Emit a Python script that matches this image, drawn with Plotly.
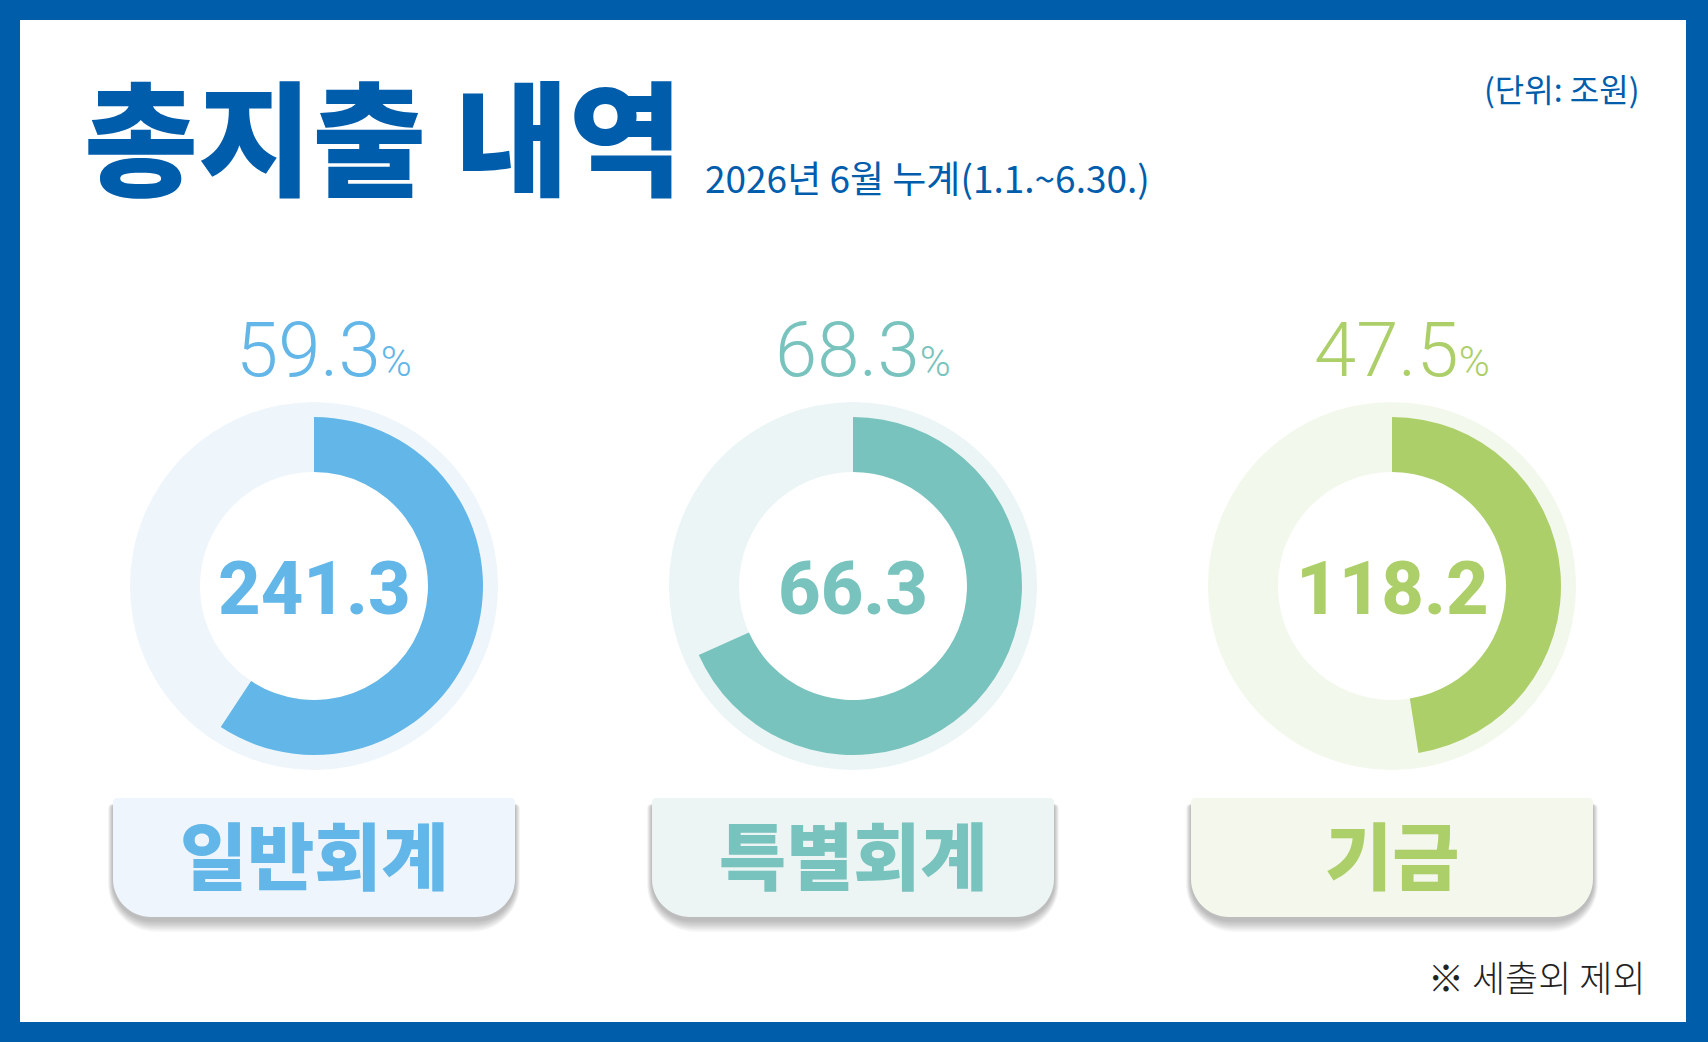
import plotly.graph_objects as go

# ---------------- data ----------------
categories = ["일반회계", "특별회계", "기금"]
amounts = [241.3, 66.3, 118.2]          # 조원
exec_rates = [59.3, 68.3, 47.5]         # %
title_text = "총지출 내역"
subtitle_text = "2026년 6월 누계(1.1.~6.30.)"
unit_text = "(단위: 조원)"
note_text = "※ 세출외 제외"

# ---------------- style ----------------
W, H = 1708, 1042
BORDER = "#005DAA"
main_colors = ["#62B6E8", "#78C3BD", "#ADCF6A"]
light_colors = ["#EEF6FC", "#EBF5F5", "#F3F8EC"]
box_colors = ["#EEF5FC", "#EDF5F4", "#F3F7EC"]
centers_x = [314, 853, 1392]
cy = 586
R_BG, R_RING, R_IN = 184, 169, 114

def px(x):
    return x / W

def py(y):
    return 1 - y / H

fig = go.Figure()

shapes = []
# white panel inside blue frame
shapes.append(dict(type="rect", xref="paper", yref="paper",
                   x0=px(20), x1=px(1686), y0=py(1022), y1=py(20),
                   fillcolor="white", line=dict(width=0), layer="below"))

def rrect_path(x0, y0, x1, y1, rt, rb):
    k = 0.5523
    pts = []
    pts.append(f"M {px(x0+rt)},{py(y0)}")
    pts.append(f"L {px(x1-rt)},{py(y0)}")
    pts.append(f"C {px(x1-rt+rt*k)},{py(y0)} {px(x1)},{py(y0+rt-rt*k)} {px(x1)},{py(y0+rt)}")
    pts.append(f"L {px(x1)},{py(y1-rb)}")
    pts.append(f"C {px(x1)},{py(y1-rb+rb*k)} {px(x1-rb+rb*k)},{py(y1)} {px(x1-rb)},{py(y1)}")
    pts.append(f"L {px(x0+rb)},{py(y1)}")
    pts.append(f"C {px(x0+rb-rb*k)},{py(y1)} {px(x0)},{py(y1-rb+rb*k)} {px(x0)},{py(y1-rb)}")
    pts.append(f"L {px(x0)},{py(y0+rt)}")
    pts.append(f"C {px(x0)},{py(y0+rt-rt*k)} {px(x0+rt-rt*k)},{py(y0)} {px(x0+rt)},{py(y0)}")
    pts.append("Z")
    return " ".join(pts)

BOX_W, BOX_T, BOX_B = 402, 798, 917

for i, cx in enumerate(centers_x):
    x0, x1 = cx - BOX_W / 2, cx + BOX_W / 2
    # soft shadow layers
    for s in range(10, 0, -1):
        shapes.append(dict(type="path", xref="paper", yref="paper",
                           path=rrect_path(x0 - s * 0.5, BOX_T + 6, x1 + s * 0.5,
                                           BOX_B + 3 + s * 1.2, 4, 38 + s),
                           fillcolor="rgba(0,0,0,0.026)", line=dict(width=0),
                           layer="below"))
    shapes.append(dict(type="path", xref="paper", yref="paper",
                       path=rrect_path(x0, BOX_T, x1, BOX_B, 4, 38),
                       fillcolor=box_colors[i], line=dict(width=0), layer="below"))

    # background light circle
    fig.add_trace(go.Pie(values=[1], hole=R_IN / R_BG, sort=False,
                         marker=dict(colors=[light_colors[i]], line=dict(width=0)),
                         textinfo="none", hoverinfo="skip", showlegend=False,
                         domain=dict(x=[px(cx - R_BG), px(cx + R_BG)],
                                     y=[py(cy + R_BG), py(cy - R_BG)])))
    # progress ring
    fig.add_trace(go.Pie(values=[exec_rates[i], 100 - exec_rates[i]],
                         hole=R_IN / R_RING, sort=False, direction="clockwise",
                         rotation=0,
                         marker=dict(colors=[main_colors[i], "rgba(0,0,0,0)"],
                                     line=dict(width=0)),
                         textinfo="none", hoverinfo="skip", showlegend=False,
                         domain=dict(x=[px(cx - R_RING), px(cx + R_RING)],
                                     y=[py(cy + R_RING), py(cy - R_RING)])))

annotations = []

def ann(text, x, y, size, color, family, weight=400, xanchor="center", yanchor="middle"):
    annotations.append(dict(text=text, x=px(x), y=py(y), xref="paper", yref="paper",
                            showarrow=False, xanchor=xanchor, yanchor=yanchor,
                            font=dict(size=size, color=color, family=family, weight=weight)))

KR = "Noto Sans CJK KR"
ann(title_text, 82, 132, 124, "#005DAB", KR, 900, xanchor="left")
ann(subtitle_text, 703, 177, 37, "#005DAB", KR, 400, xanchor="left")
ann(unit_text, 1641, 88, 32, "#005DAB", KR, 400, xanchor="right")
ann(note_text, 1648, 976, 36, "#222222", KR, 300, xanchor="right")

for i, cx in enumerate(centers_x):
    ann(f"{exec_rates[i]:.1f}<span style='font-size:42px'>%</span>", cx + 10, 350,
        76, main_colors[i], "Roboto", 300)
    ann(f"{amounts[i]:.1f}", cx, 588, 74, main_colors[i], "Roboto", 800)
    ann(categories[i], cx, 852, 73, main_colors[i], KR, 900)

fig.update_layout(width=W, height=H, margin=dict(l=0, r=0, t=0, b=0),
                  paper_bgcolor=BORDER, plot_bgcolor="white",
                  shapes=shapes, annotations=annotations, showlegend=False)

fig.write_html("out.html", config={"displayModeBar": False},
               post_script="document.body.style.margin='0';"
                           "document.body.style.background='#005DAA';"
                           "document.body.style.overflow='hidden';")
